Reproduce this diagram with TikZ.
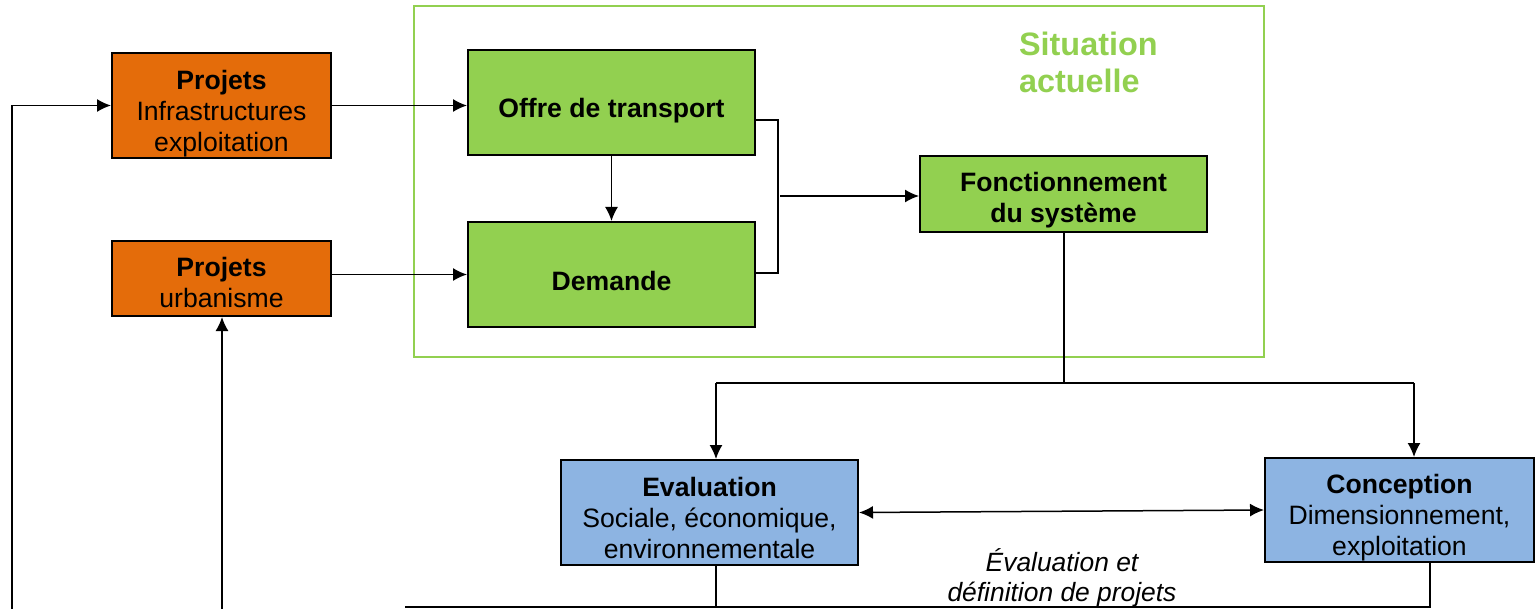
\documentclass[tikz,border=0pt]{standalone}
\usepackage{fontspec}
\setmainfont{Liberation Sans}
\usetikzlibrary{arrows.meta, calc}
\definecolor{orangeprj}{HTML}{E46C0A}
\definecolor{vertsit}{HTML}{92D050}
\definecolor{bleueval}{HTML}{8DB4E2}
\newcommand\haut[1]{\rule{0pt}{#1pt}} % descend le texte dans la boite

\begin{document}
\begin{tikzpicture}[x=0.5pt,y=-0.5pt,>={Latex[length=7pt,width=6.5pt]},
  boite/.style={draw=black, line width=1pt, inner sep=0pt, align=center,
    font=\fontsize{13.3}{15.5}\selectfont},
  projet/.style={boite, fill=orangeprj, minimum width=109.5pt},
  situ/.style={boite, fill=vertsit, minimum width=143.5pt},
  evalbox/.style={boite, fill=bleueval},
  fleche/.style={->, line width=0.75pt},
  trait/.style={line width=0.75pt}]
  \useasboundingbox (0,0) rectangle (1536,609);

  % cadre de la situation actuelle
  \draw[vertsit, line width=1.3pt] (414,6) rectangle (1264,357);
  \node (titre) at (1012,62) [anchor=west, text=vertsit, align=left,
    font=\fontsize{16.2}{18.5}\selectfont\bfseries]{Situation\\actuelle};

  % boites
  \node (infra) at (221.5,105.5) [projet, minimum height=52.5pt]{\haut{18.2}\textbf{Projets}\\Infrastructures\\exploitation};
  \node (urba) at (221.5,278.5) [projet, minimum height=37.5pt]{\haut{13.7}\textbf{Projets}\\urbanisme};
  \node (offre) at (611.5,102.5) [situ, minimum height=52.5pt]{\haut{18}\textbf{Offre de transport}};
  \node (demande) at (611.5,274.5) [situ, minimum height=52.5pt]{\haut{16}\textbf{Demande}};
  \node (fonct) at (1063.5,194) [situ, minimum height=38pt]{\haut{16.2}\textbf{Fonctionnement}\\\textbf{du système}};
  \node (evalu) at (709.5,512.5) [evalbox, minimum width=148.5pt, minimum height=52.5pt]{\haut{14.7}\textbf{Evaluation}\\Sociale, économique,\\environnementale};
  \node (concep) at (1399.5,510) [evalbox, minimum width=134.5pt, minimum height=52pt]{\haut{17.7}\textbf{Conception}\\Dimensionnement,\\exploitation};
  \node (retour) at (1062,578) [align=center, font=\fontsize{13.2}{15}\selectfont\itshape]{Évaluation et\\définition de projets};

  % points de passage
  \coordinate (brH) at (778,120); % crochet haut
  \coordinate (brB) at (778,273); % crochet bas
  \coordinate (brM) at (780,196); % depart vers fonctionnement
  \coordinate (nd) at (1064,383); % noeud sous fonctionnement
  \coordinate (ndG) at (716,383);
  \coordinate (ndD) at (1414,383);
  \coordinate (bG) at (716,607); % bas sous evaluation
  \coordinate (bD) at (1430,607); % bas sous conception
  \coordinate (bDeb) at (405,607);
  \coordinate (g1) at (12,609); % retours a gauche
  \coordinate (g2) at (222,609);

  % connexions
  \draw[fleche] (infra) -- (offre.west |- infra);
  \draw[fleche] (demande.west -| urba.east) -- (demande.west);
  \draw[fleche] (offre) -- (demande);
  \draw[trait] (offre.east |- brH) -- (brH) -- (brB) -- (demande.east |- brB);
  \draw[fleche] (brM) -- (fonct.west |- brM);
  \draw[trait] (fonct.south -| nd) -- (nd);
  \draw[trait] (ndG) -- (ndD);
  \draw[fleche] (ndG) -- (evalu.north -| ndG);
  \draw[fleche] (ndD) -- (concep.north -| ndD);
  \draw[<->, line width=0.75pt] (evalu.east) -- (concep.west);
  \draw[trait] (evalu.south -| bG) -- (bG);
  \draw[trait] (concep.south -| bD) -- (bD) -- (bDeb);
  \draw[fleche] (g1) |- (infra.west);
  \draw[fleche] (g2) -- (urba.south -| g2);
\end{tikzpicture}
\end{document}
